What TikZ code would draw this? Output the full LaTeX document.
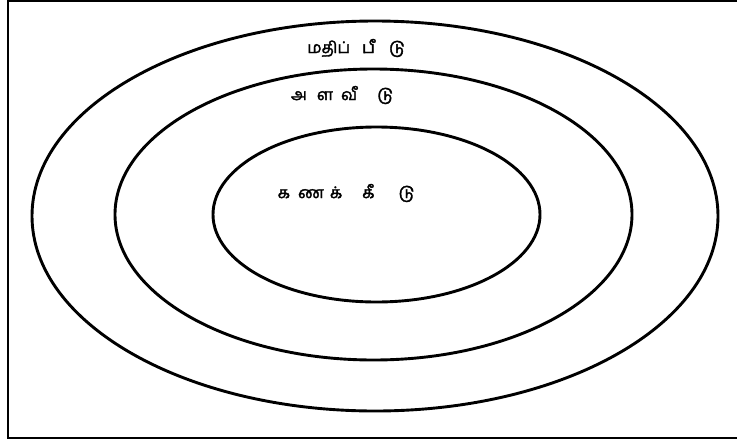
\documentclass[tikz,border=0pt]{standalone}
\usepackage{fontspec}
\newfontfamily\tamil[Script=Tamil, FakeBold=2]{Hind Madurai}
\newcommand{\gp}[1]{\hspace{#1pt}}
\begin{document}
\begin{tikzpicture}[x=1pt,y=-1pt,
  ring/.style={line width=2.9pt, draw=black},
  frameline/.style={line width=2pt, draw=black},
  lbl/.style={font=\tamil\fontsize{16}{19}\selectfont, inner sep=0pt, text=black}]
\useasboundingbox (0,0) rectangle (737,440);
\fill[white] (0,0) rectangle (737,440);
\draw[frameline] (738,1) -- (8,1) -- (8,437.5) -- (738,437.5);
\draw[ring] (375,216) ellipse [x radius=343, y radius=195];
\draw[ring] (373.5,214.5) ellipse [x radius=258.5, y radius=145.5];
\draw[ring] (376.5,214.5) ellipse [x radius=163.5, y radius=87.5];
\node[lbl] (outer) at (356,48) {மதிப்\gp{12}பீ\gp{14}டு};
\node[lbl] (middle) at (342,95) {அ\gp{10}ள\gp{8}வீ\gp{20}டு};
\node[lbl] (inner) at (346,193) {க\gp{8}ண\gp{6}க்\gp{20}கீ\gp{24}டு};
\end{tikzpicture}
\end{document}
